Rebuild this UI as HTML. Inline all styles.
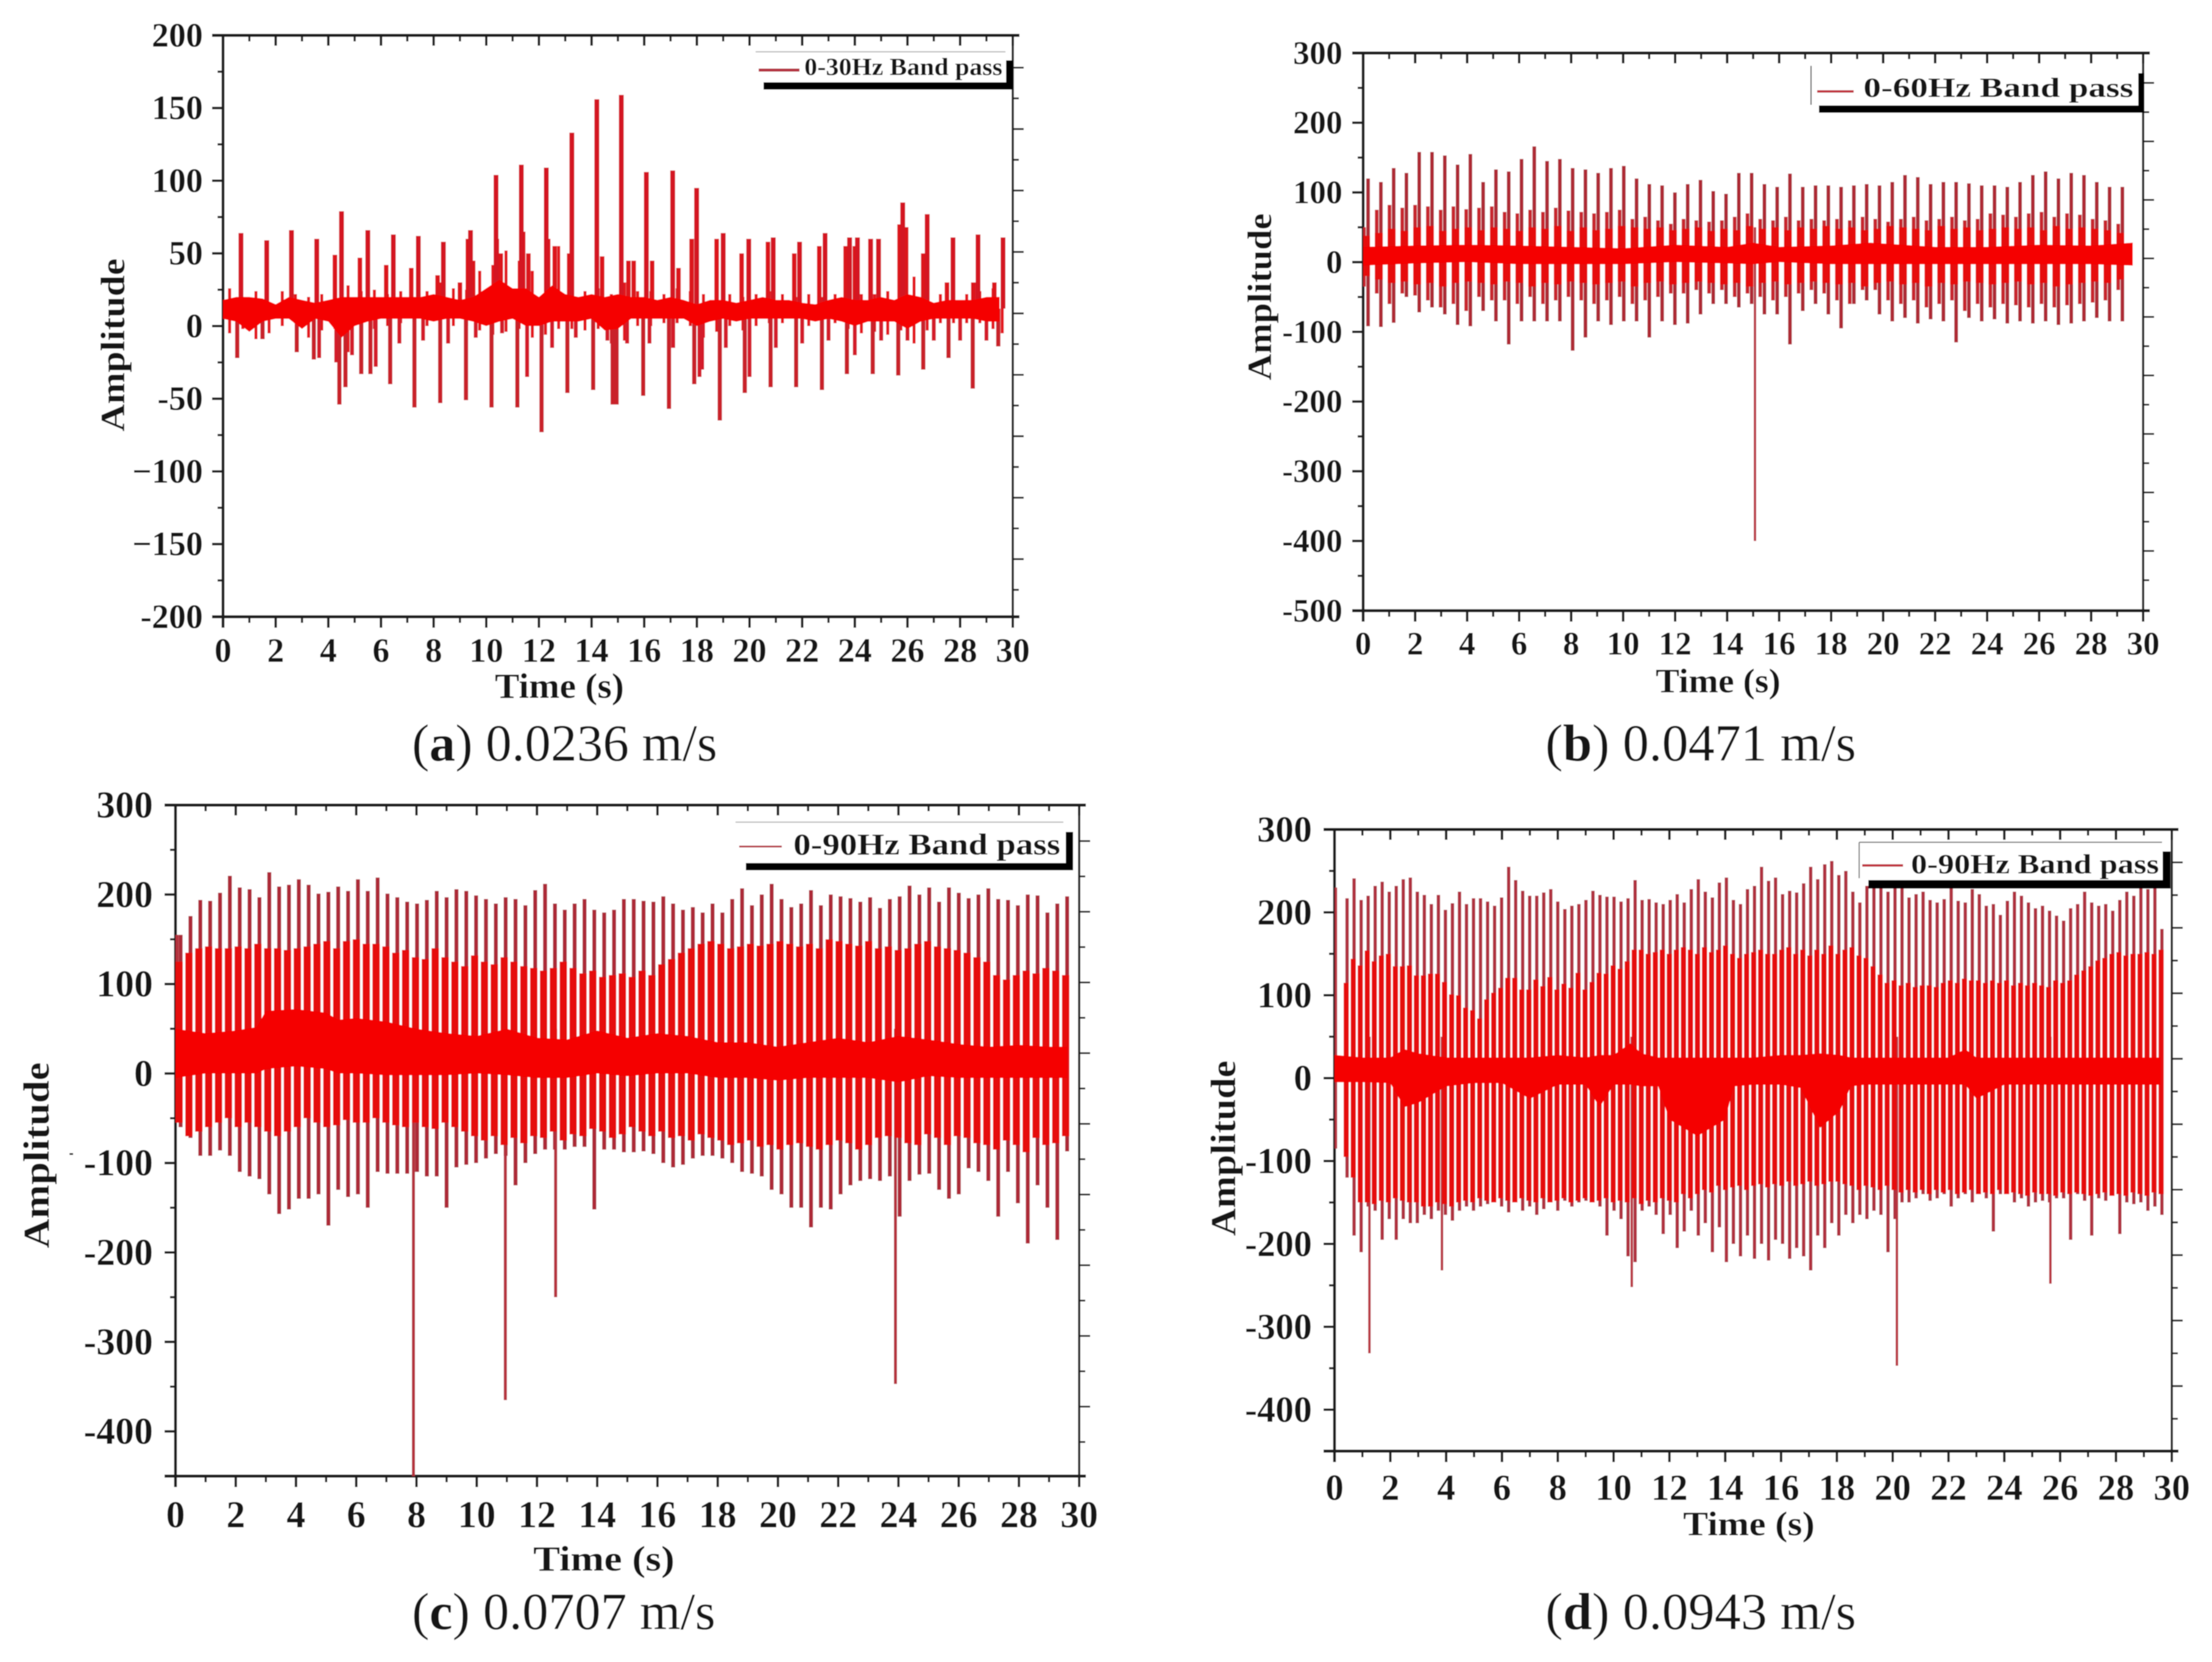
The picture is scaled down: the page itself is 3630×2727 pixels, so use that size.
<!DOCTYPE html>
<html lang="en">
<head>
<meta charset="utf-8">
<title>Band-pass amplitude charts</title>
<style>
html,body{margin:0;padding:0;background:#fff}
svg{display:block}
text{font-family:"Liberation Serif",serif;fill:#141414}
.b{font-weight:bold}
</style>
</head>
<body>
<svg id="fig" xmlns="http://www.w3.org/2000/svg" width="3630" height="2727" viewBox="0 0 3630 2727">
<defs>
<filter id="soft" x="0" y="0" width="100%" height="100%" filterUnits="userSpaceOnUse" primitiveUnits="userSpaceOnUse"><feGaussianBlur stdDeviation="0.9"/></filter>
<clipPath id="clip-a"><rect x="366" y="58" width="1296" height="954"/></clipPath>
<clipPath id="clip-b"><rect x="2237" y="87" width="1280" height="915"/></clipPath>
<clipPath id="clip-c"><rect x="288" y="1321" width="1483" height="1101"/></clipPath>
<clipPath id="clip-d"><rect x="2190" y="1361" width="1374" height="1020"/></clipPath>
</defs>
<g id="root" filter="url(#soft)">
<rect x="0" y="0" width="3630" height="2727" fill="#fff"/>
<g id="panel-a"></g>
<g id="panel-b"></g>
<g id="panel-c"></g>
<g id="panel-d"></g>

<!-- legends -->
<g>
<rect x="1240" y="85" width="420" height="55" fill="#fff"/>
<line x1="1240" y1="85" x2="1650" y2="85" stroke="#bbb" stroke-width="2"/>
<line x1="1245" y1="115" x2="1312" y2="115" stroke="#b5303f" stroke-width="5"/>
<text class="b" x="1320" y="123" font-size="40" textLength="325" lengthAdjust="spacingAndGlyphs">0-30Hz Band pass</text>
<rect x="1253" y="135" width="409" height="12" fill="#000"/>
<rect x="1651" y="99" width="11" height="48" fill="#000"/>
</g>
<g>
<rect x="2972" y="108" width="540" height="70" fill="#fff"/>
<line x1="2972" y1="108" x2="2972" y2="172" stroke="#555" stroke-width="2"/>
<line x1="2982" y1="150" x2="3042" y2="150" stroke="#c0303c" stroke-width="4"/>
<text class="b" x="3058" y="159" font-size="46" textLength="443" lengthAdjust="spacingAndGlyphs">0-60Hz Band pass</text>
<rect x="2985" y="173" width="534" height="12" fill="#000"/>
<rect x="3509" y="120" width="10" height="61" fill="#000"/>
</g>
<g>
<rect x="1207" y="1349" width="545" height="70" fill="#fff"/>
<line x1="1207" y1="1349" x2="1745" y2="1349" stroke="#bbb" stroke-width="2"/>
<line x1="1213" y1="1389" x2="1283" y2="1389" stroke="#b5303f" stroke-width="3"/>
<text class="b" x="1302" y="1402" font-size="50" textLength="438" lengthAdjust="spacingAndGlyphs">0-90Hz Band pass</text>
<rect x="1224" y="1416" width="537" height="12" fill="#000"/>
<rect x="1749" y="1365" width="12" height="63" fill="#000"/>
</g>
<g>
<rect x="3051" y="1382" width="500" height="62" fill="#fff"/>
<line x1="3051" y1="1382" x2="3548" y2="1382" stroke="#777" stroke-width="2"/>
<line x1="3051" y1="1382" x2="3051" y2="1441" stroke="#777" stroke-width="2"/>
<line x1="3056" y1="1420" x2="3123" y2="1420" stroke="#c0303c" stroke-width="4"/>
<text class="b" x="3136" y="1433" font-size="46" textLength="407" lengthAdjust="spacingAndGlyphs">0-90Hz Band pass</text>
<rect x="3066" y="1444" width="496" height="14" fill="#000"/>
<rect x="3549" y="1397" width="13" height="61" fill="#000"/>
</g>

<!-- axis titles -->
<text class="b" transform="translate(204,708) rotate(-90)" font-size="56" textLength="284" lengthAdjust="spacingAndGlyphs">Amplitude</text>
<text class="b" x="812" y="1145" font-size="58" textLength="212" lengthAdjust="spacingAndGlyphs">Time (s)</text>
<text class="b" transform="translate(2086,624) rotate(-90)" font-size="56" textLength="274" lengthAdjust="spacingAndGlyphs">Amplitude</text>
<text class="b" x="2717" y="1136" font-size="56" textLength="205" lengthAdjust="spacingAndGlyphs">Time (s)</text>
<text class="b" transform="translate(80,2048) rotate(-90)" font-size="60" textLength="305" lengthAdjust="spacingAndGlyphs">Amplitude</text>
<text class="b" x="875" y="2577" font-size="58" textLength="232" lengthAdjust="spacingAndGlyphs">Time (s)</text>
<text class="b" transform="translate(2027,2028) rotate(-90)" font-size="58" textLength="288" lengthAdjust="spacingAndGlyphs">Amplitude</text>
<text class="b" x="2762" y="2519" font-size="56" textLength="216" lengthAdjust="spacingAndGlyphs">Time (s)</text>
<rect x="114" y="1892" width="6" height="3" fill="#222"/>

<!-- captions -->
<text x="676" y="1248" font-size="86" textLength="501" lengthAdjust="spacingAndGlyphs">(<tspan class="b">a</tspan>) 0.0236 m/s</text>
<text x="2536" y="1248" font-size="86" textLength="510" lengthAdjust="spacingAndGlyphs">(<tspan class="b">b</tspan>) 0.0471 m/s</text>
<text x="676" y="2673" font-size="86" textLength="498" lengthAdjust="spacingAndGlyphs">(<tspan class="b">c</tspan>) 0.0707 m/s</text>
<text x="2536" y="2673" font-size="86" textLength="510" lengthAdjust="spacingAndGlyphs">(<tspan class="b">d</tspan>) 0.0943 m/s</text>
</g>
</svg>
<script>
/* shared x axis */
const xTickValues = [0,2,4,6,8,10,12,14,16,18,20,22,24,26,28,30];
const xTickLabels = ["0","2","4","6","8","10","12","14","16","18","20","22","24","26","28","30"];

/* ---------- panel a ---------- */
const aYTicks = [200,150,100,50,0,-50,-100,-150,-200];
const aYLabels = ["200","150","100","50","0","-50","\u2212100","\u2212150","-200"];
const aPeakTime = [.68,1.66,2.6,3.56,4.5,5.5,6.47,7.42,8.37,9.4,10.37,11.33,12.28,13.25,14.2,15.13,16.08,17.08,17.99,19,19.97,20.9,21.9,22.87,23.8,24.1,24.6,24.9,25.82,26.75,27.73,28.68,29.63];
const aPeakValue = [64,59,66,60,79,66,63,62,58,66,104,111,109,133,156,159,106,107,95,64,60,61,58,64,61,61,60,60,85,77,61,63,61];
const aTroughTime = [.54,1.5,2.8,3.45,4.42,4.65,5.25,5.6,6.35,7.27,8.25,9.23,10.2,11.18,12.1,13.08,14.06,14.8,14.95,15.96,16.94,17.9,18.87,19.82,20.8,21.77,22.75,23.7,24.68,25.65,26.6,27.56,28.48,29.45];
const aTroughValue = [-22,-9,-18,-23,-54,-42,-33,-33,-40,-56,-53,-51,-56,-56,-73,-46,-44,-54,-54,-48,-57,-40,-65,-46,-42,-42,-44,-33,-33,-34,-30,-22,-43,-14];
const aMinorPeakTime = [4.25,5.2,6.2,7.15,8.15,9.0,9.3,9.5,10.4,10.55,11.4,11.6,12.35,12.6,13.15,14.4,15.4,15.6,16.3,17.3,17.8,18.75,19.7,20.7,21.7,22.65,23.65,24.0,25.7,25.95,26.6,27.5,28.5,29.3];
const aMinorPeakValue = [49,47,42,40,35,30,60,45,60,50,65,50,60,55,50,48,45,45,45,40,60,60,50,58,50,55,55,55,70,68,50,30,30,30];
const aMinorTroughTime = [3.65,4.3,4.9,5.8,6.7,7.6,8.55,9.6,10.6,11.55,12.5,13.4,14.6,15.35,16.2,17.1,18.1,18.2,19.1,20,21,22,23,24,25,26,27,28,29];
const aMinorTroughValue = [-22,-25,-20,-28,-12,-10,-12,-8,-5,-35,-15,-8,-10,-12,-12,-15,-35,-30,-15,-35,-15,-12,-10,-20,-10,-10,-10,-10,-10];
const aCoreTime = [0,.5,1,1.5,2,2.5,3,3.5,4,4.5,5,5.5,6,6.5,7,7.5,8,8.5,9,9.5,10,10.5,11,11.5,12,12.5,13,13.5,14,14.5,15,15.5,16,16.5,17,17.5,18,18.5,19,19.5,20,20.5,21,21.5,22,22.5,23,23.5,24,24.5,25,25.5,26,26.5,27,27.5,28,28.5,29,29.5];
const aCoreHigh = [18,20,20,19,15,20,18,16,18,20,20,20,20,20,20,20,22,20,18,20,26,32,26,26,20,28,22,20,22,20,22,20,20,18,20,18,15,18,18,16,18,20,18,18,16,15,18,20,18,18,20,18,22,20,16,18,18,18,20,20];
const aCoreLow = [5,3,-4,3,5,5,-2,5,3,-8,0,3,5,5,5,5,3,5,5,3,0,3,5,0,0,3,3,3,5,-3,-2,5,5,5,5,5,0,3,5,3,5,5,5,5,5,3,5,3,0,3,3,3,-2,3,5,5,5,5,3,3];
const aRippleTime = [.25,.75,1.25,1.75,2.25,2.75,3.25,3.75,4.25,4.75,5.25,5.75,6.25,6.75,7.25,7.75,8.25,8.75,9.25,9.75,10.25,10.75,11.25,11.75,12.25,12.75,13.25,13.75,14.25,14.75,15.25,15.75,16.25,16.75,17.25,17.75,18.25,18.75,19.25,19.75,20.25,20.75,21.25,21.75,22.25,22.75,23.25,23.75,24.25,24.75,25.25,25.75,26.25,26.75,27.25,27.75,28.25,28.75,29.25,29.6];
const aRippleHigh = [26,20,24,16,24,22,20,22,22,28,24,25,22,24,20,24,30,26,25,38,42,52,45,38,28,55,30,24,26,22,30,24,24,22,26,24,22,20,22,20,22,24,22,20,22,20,22,24,22,22,24,22,34,28,22,24,22,24,26,24];
const aRippleLow = [-5,-2,-9,-5,0,2,-8,-3,-2,-18,-5,-2,0,2,3,0,-2,0,0,-3,-6,-4,-2,-8,-6,-2,-2,-3,-2,-12,-10,0,0,2,2,0,-8,-4,0,-3,0,2,2,2,0,-2,2,-2,-5,-4,-6,-3,-12,-3,2,2,2,2,-2,-5];

/* ---------- panel b ---------- */
const bYTicks = [300,200,100,0,-100,-200,-300,-400,-500];
const bYLabels = ["300","200","100","0","-100","-200","-300","-400","-500"];
const bCycleStart = 0.19, bCyclePeriod = 0.4917;
const bTop = [120,115,135,128,158,158,153,140,155,115,133,130,148,166,145,148,135,133,128,135,138,120,112,110,100,112,118,102,98,128,128,112,108,127,108,110,110,108,110,112,110,115,125,122,112,115,115,113,110,110,108,115,125,130,120,128,125,115,108,108];
const bBottom = [-92,-93,-87,-50,-72,-65,-75,-90,-92,-70,-85,-118,-85,-85,-85,-85,-127,-108,-85,-90,-85,-85,-108,-85,-90,-88,-75,-60,-60,-65,-60,-75,-75,-118,-70,-60,-75,-95,-60,-55,-75,-85,-80,-88,-82,-85,-115,-80,-85,-82,-88,-85,-88,-85,-90,-88,-85,-80,-85,-85];
const bMinorHigh = [50,75,82,78,82,80,75,80,76,78,80,72,70,75,72,78,74,72,70,72,75,62,65,60,55,62,60,58,60,65,70,62,60,65,60,62,60,62,60,65,62,58,62,65,60,62,65,60,62,70,68,65,70,72,65,70,68,62,60,55];
const bMinorLow = [-35,-45,-60,-45,-48,-55,-65,-60,-70,-50,-55,-55,-60,-50,-60,-55,-50,-55,-60,-55,-50,-60,-55,-50,-45,-45,-40,-45,-40,-50,-45,-50,-55,-50,-45,-40,-45,-55,-60,-40,-40,-55,-60,-55,-65,-60,-55,-70,-60,-65,-60,-62,-65,-60,-65,-62,-60,-58,-55,-40];
const bBurstHigh = [38,42,48,45,50,52,45,48,50,46,50,48,45,50,48,52,45,50,46,48,52,50,48,50,46,48,50,45,48,46,52,48,50,46,50,48,52,48,50,46,48,52,50,48,46,52,48,50,46,48,50,48,50,46,52,48,50,48,46,42];
const bBurstLow = [-20,-25,-30,-28,-32,-30,-35,-30,-28,-30,-32,-28,-30,-35,-30,-32,-28,-30,-32,-30,-28,-35,-30,-28,-32,-30,-28,-30,-32,-30,-35,-30,-28,-32,-30,-28,-30,-32,-30,-35,-30,-28,-32,-30,-35,-30,-32,-28,-30,-32,-30,-28,-32,-30,-35,-32,-30,-28,-30,-25];
const bCoreTime = [0,2,4,6,8,10,12,14,15,16,18,19.5,22,24,26,28,29.6];
const bCoreHigh = [22,24,25,24,22,20,25,22,28,22,24,28,22,22,25,24,28];
const bCoreLow = [-5,-2,0,-3,-3,-3,0,-2,-3,0,-3,-3,-3,-3,-3,-3,-5];
const bOutlierTime = [15.07];
const bOutlierHigh = [50];
const bOutlierLow = [-400];

/* ---------- panel c ---------- */
const cYTicks = [300,200,100,0,-100,-200,-300,-400];
const cYLabels = ["300","200","100","0","-100","-200","-300","-400"];
const cCycleStart = 0.17, cCyclePeriod = 0.327;
const cTop = [155,176,194,193,202,221,208,206,197,225,209,211,217,211,201,203,209,204,217,204,219,201,197,192,190,194,204,197,206,204,199,195,190,197,195,188,205,212,190,183,190,195,183,180,183,195,195,193,192,198,190,183,186,180,190,180,195,207,188,200,212,195,186,190,205,188,200,198,196,192,197,185,195,198,210,200,208,192,208,202,196,200,207,195,194,188,200,199,180,190,198];
const cBottom = [-60,-72,-92,-92,-86,-92,-110,-115,-118,-135,-157,-152,-140,-140,-135,-170,-130,-138,-135,-150,-110,-112,-112,-112,-110,-115,-115,-150,-105,-102,-100,-95,-90,-92,-125,-100,-90,-85,-85,-85,-82,-82,-152,-85,-85,-88,-88,-87,-90,-100,-105,-102,-95,-92,-92,-95,-100,-110,-112,-115,-130,-135,-150,-150,-172,-150,-152,-135,-125,-120,-118,-120,-115,-160,-120,-113,-112,-130,-140,-135,-106,-110,-120,-160,-110,-145,-190,-125,-150,-186,-87];
const cThickHigh = [125,135,140,142,140,140,142,140,145,140,140,138,140,142,145,148,140,148,150,145,145,142,135,138,130,128,140,130,125,120,132,125,122,130,125,120,118,115,118,125,118,112,115,108,110,112,108,115,110,122,128,135,140,145,148,145,140,142,145,143,145,148,145,142,145,140,150,148,145,143,148,140,142,138,140,145,148,142,140,138,135,130,125,110,105,110,115,112,118,115,110];
const cThickLow = [-55,-70,-65,-60,-55,-50,-60,-55,-60,-65,-70,-65,-60,-50,-55,-60,-58,-52,-55,-55,-50,-55,-58,-60,-55,-60,-62,-55,-60,-65,-70,-75,-70,-80,-72,-78,-70,-72,-65,-75,-68,-70,-62,-65,-72,-68,-60,-65,-70,-65,-72,-70,-75,-68,-72,-75,-80,-78,-75,-82,-80,-85,-80,-78,-82,-85,-80,-75,-78,-85,-80,-72,-70,-72,-78,-80,-68,-72,-80,-70,-72,-78,-80,-85,-75,-80,-88,-72,-80,-78,-70];
const cCoreTime = [0,1,2,2.7,3,4,5,5.4,6,7,8,9,10,11,12,13,14,15,16,17,18,19,20,21,22,23,24,25,26,27,28,29,29.6];
const cCoreHigh = [50,45,48,52,70,72,68,60,62,58,50,45,42,50,40,38,48,40,45,42,35,35,30,35,40,35,42,38,33,30,32,30,30];
const cCoreLow = [-5,0,0,0,5,8,5,0,0,-2,-2,-2,0,-2,-5,-5,0,-3,0,0,-5,-5,-8,-5,-5,-5,-10,-3,-5,-5,-5,-5,-5];
const cOutlierTime = [.05,7.9,10.95,12.62,23.9];
const cOutlierHigh = [155,50,50,50,50];
const cOutlierLow = [-40,-450,-365,-250,-347];

/* ---------- panel d ---------- */
const dYTicks = [300,200,100,0,-100,-200,-300,-400];
const dYLabels = ["300","200","100","0","-100","-200","-300","-400"];
const dCycleStart = 0.45, dCyclePeriod = 0.2517;
const dTop = [217,241,215,220,232,237,225,232,240,242,225,221,210,221,203,211,225,210,217,217,213,208,218,255,239,226,220,220,224,228,213,204,208,210,215,226,221,219,219,213,217,239,215,216,212,210,215,222,212,228,240,225,218,236,242,215,210,228,232,255,238,242,222,226,224,235,255,240,258,262,245,250,225,212,232,262,240,225,238,242,218,222,225,215,212,216,230,214,212,228,222,208,210,197,214,225,220,212,205,208,202,196,190,205,210,225,212,208,210,202,215,225,220,240,228,235,180];
const dBottom = [-120,-190,-210,-155,-160,-195,-170,-195,-170,-175,-175,-165,-170,-160,-165,-172,-160,-155,-160,-155,-152,-150,-155,-162,-150,-160,-155,-165,-158,-150,-160,-148,-155,-150,-148,-150,-155,-190,-160,-170,-215,-222,-160,-155,-165,-188,-165,-205,-185,-160,-190,-175,-210,-180,-222,-200,-215,-190,-218,-200,-220,-195,-200,-218,-205,-215,-232,-190,-205,-175,-190,-165,-175,-165,-170,-160,-165,-210,-170,-150,-150,-145,-140,-148,-145,-140,-155,-145,-140,-150,-140,-145,-185,-140,-138,-150,-145,-155,-150,-148,-150,-145,-145,-195,-140,-148,-190,-145,-148,-140,-188,-150,-152,-150,-160,-155,-165];
const dThickHigh = [115,144,136,154,141,148,150,135,135,136,124,124,126,126,116,101,100,85,82,72,95,103,109,121,121,107,107,119,111,122,107,114,109,127,107,116,127,126,136,132,141,155,155,150,152,155,150,155,158,155,150,158,152,155,160,150,145,150,152,155,150,150,155,158,150,155,148,155,150,160,150,155,158,148,145,135,125,115,118,112,115,110,112,112,110,115,118,115,120,118,118,115,118,115,118,112,115,112,115,112,110,118,115,118,125,130,135,142,145,150,152,148,150,150,152,150,155];
const dThickLow = [-95,-120,-150,-150,-152,-148,-150,-145,-148,-150,-150,-155,-155,-150,-152,-155,-150,-148,-150,-145,-148,-150,-145,-148,-150,-145,-148,-150,-145,-150,-148,-145,-150,-148,-145,-150,-148,-145,-150,-148,-150,-145,-152,-148,-150,-145,-148,-150,-140,-145,-140,-135,-138,-130,-135,-132,-130,-135,-130,-128,-132,-128,-130,-125,-130,-128,-125,-130,-128,-125,-125,-128,-130,-135,-130,-132,-135,-130,-135,-138,-135,-138,-135,-140,-135,-138,-135,-140,-138,-135,-140,-138,-140,-135,-140,-138,-140,-142,-138,-140,-140,-142,-138,-140,-138,-140,-142,-140,-138,-142,-140,-142,-138,-140,-142,-138,-140];
const dCoreTime = [0,1,2,2.5,3,4,5,6,7,8,9,9.5,10,10.6,11,11.6,12,12.5,13,13.5,14,14.3,15,16,16.7,17.4,18.1,18.5,19,20,21,22,22.6,23,24,25,26,27,28,29,29.6];
const dCoreHigh = [28,25,25,35,30,25,25,25,25,28,25,28,28,42,30,25,25,25,25,25,25,25,25,28,28,30,28,25,25,25,25,25,35,25,25,25,25,25,25,25,25];
const dCoreLow = [-5,-5,-6,-35,-30,-10,-6,-6,-25,-8,-8,-35,-8,-8,-10,-10,-50,-60,-70,-60,-50,-10,-8,-8,-12,-60,-40,-10,-8,-8,-8,-8,-8,-25,-8,-8,-8,-8,-8,-8,-8];
const dOutlierTime = [.05,1.25,3.85,10.65,20.15,25.65];
const dOutlierHigh = [230,50,50,50,50,50];
const dOutlierLow = [-85,-332,-232,-252,-347,-248];

/* ---------- drawing ---------- */
const NS = 'http://www.w3.org/2000/svg';
const INK = '#1a1a1a';

function makeAxes(id, left, right, top, bottom, xMax, yMax, yMin) {
  return {
    id: id, left: left, right: right, top: top, bottom: bottom,
    x: function (t) { return left + (t / xMax) * (right - left); },
    y: function (v) { return top + ((yMax - v) / (yMax - yMin)) * (bottom - top); }
  };
}
function seg(parent, x1, y1, x2, y2, w) {
  const l = document.createElementNS(NS, 'line');
  l.setAttribute('x1', x1); l.setAttribute('y1', y1);
  l.setAttribute('x2', x2); l.setAttribute('y2', y2);
  l.setAttribute('stroke', INK); l.setAttribute('stroke-width', w);
  parent.appendChild(l);
  return l;
}
function drawFrame(ax, yTicks, yLabels, yMinorStep, fontSize, yLabelRight, xLabelBaseline, rightFirst, rightStep) {
  const host = document.getElementById('panel-' + ax.id);
  const g = document.createElementNS(NS, 'g');
  
  
  host.appendChild(g);

  const topLine = seg(g, ax.left - 18, ax.top, ax.right + 11, ax.top, 5);
  
  
  const bottomLine = seg(g, ax.left - 18, ax.bottom, ax.right + 11, ax.bottom, 5);
  
  
  const leftLine = seg(g, ax.left, ax.top - 2, ax.left, ax.bottom + 18, 4.5);
  
  
  const rightLine = seg(g, ax.right, ax.top - 2, ax.right, ax.bottom + 2, 3.5);
  
  

  xTickValues.forEach(function (v, i) {
    const px = ax.x(v);
    const major = seg(g, px, ax.bottom, px, ax.bottom + 18, 4);
    
    
    const topMajor = seg(g, px, ax.top, px, ax.top + 17, 4);
    
    
    if (v < 30) {
      const mx = ax.x(v + 1);
      const minor = seg(g, mx, ax.bottom, mx, ax.bottom + 10, 3.5);
      
      
      const topMinor = seg(g, mx, ax.top, mx, ax.top + 10, 3.5);
      
      
    }
    const label = document.createElementNS(NS, 'text');
    label.setAttribute('x', px);
    label.setAttribute('y', xLabelBaseline);
    label.setAttribute('text-anchor', 'middle');
    label.setAttribute('font-size', fontSize);
    label.setAttribute('class', 'b');
    
    
    label.textContent = xTickLabels[i];
    g.appendChild(label);
  });

  yTicks.forEach(function (v, i) {
    const py = ax.y(v);
    const major = seg(g, ax.left - 18, py, ax.left, py, 4);
    
    
    const label = document.createElementNS(NS, 'text');
    label.setAttribute('x', yLabelRight);
    label.setAttribute('y', py + fontSize * 0.33);
    label.setAttribute('text-anchor', 'end');
    label.setAttribute('font-size', fontSize);
    label.setAttribute('class', 'b');
    
    
    label.textContent = yLabels[i];
    g.appendChild(label);
    const my = ax.y(v - yMinorStep);
    if (my < ax.bottom - 2) {
      const minor = seg(g, ax.left - 9, my, ax.left, my, 3.5);
      
      
    }
  });

  for (let k = 0; k < 18; k++) {
    const py = rightFirst + k * rightStep;
    const r = seg(g, ax.right, py, ax.right + (k % 2 === 0 ? 18 : 10), py, 3);
    
    
  }
}
function spikePath(ax, times, highs, lows) {
  let d = '';
  for (let i = 0; i < times.length; i++) {
    const x = ax.x(times[i]).toFixed(1);
    d += 'M' + x + ' ' + ax.y(highs[i]).toFixed(1) + 'L' + x + ' ' + ax.y(lows[i]).toFixed(1);
  }
  return d;
}
function addLayer(ax, d, width, color, name) {
  const p = document.createElementNS(NS, 'path');
  p.setAttribute('d', d);
  p.setAttribute('fill', 'none');
  p.setAttribute('stroke', color);
  p.setAttribute('stroke-width', width);
  p.setAttribute('clip-path', 'url(#clip-' + ax.id + ')');
  
  
  document.getElementById('panel-' + ax.id).appendChild(p);
}
function addCore(ax, times, highs, lows, name) {
  let pts = [];
  times.forEach(function (t, i) { pts.push(ax.x(t).toFixed(1) + ',' + ax.y(highs[i]).toFixed(1)); });
  for (let i = times.length - 1; i >= 0; i--) { pts.push(ax.x(times[i]).toFixed(1) + ',' + ax.y(lows[i]).toFixed(1)); }
  const p = document.createElementNS(NS, 'polygon');
  p.setAttribute('points', pts.join(' '));
  p.setAttribute('fill', '#f50000');
  p.setAttribute('clip-path', 'url(#clip-' + ax.id + ')');
  
  
  document.getElementById('panel-' + ax.id).appendChild(p);
}
function cycleTimes(count, start, period, offset) {
  const out = [];
  for (let i = 0; i < count; i++) { out.push(start + i * period + offset); }
  return out;
}
function constant(count, v) {
  const out = [];
  for (let i = 0; i < count; i++) { out.push(v); }
  return out;
}

/* panel a */
const axA = makeAxes('a', 366, 1662, 58, 1012, 30, 200, -200);
drawFrame(axA, aYTicks, aYLabels, 25, 56, 333, 1086, 111, 50.4);
addLayer(axA, spikePath(axA, aRippleTime, aRippleHigh, aRippleLow), 5, '#e3161e', 'series-a-ripple');
addLayer(axA, spikePath(axA, aMinorTroughTime, constant(aMinorTroughTime.length, 12), aMinorTroughValue), 6.5, '#d41f29', 'series-a-minor-troughs');
addLayer(axA, spikePath(axA, aTroughTime, constant(aTroughTime.length, 12), aTroughValue), 7, '#c92029', 'series-a-troughs');
addLayer(axA, spikePath(axA, aMinorPeakTime, aMinorPeakValue, constant(aMinorPeakTime.length, 12)), 7.5, '#dc161e', 'series-a-minor-peaks');
addLayer(axA, spikePath(axA, aPeakTime, aPeakValue, constant(aPeakTime.length, 12)), 8, '#d41820', 'series-a-peaks');
addCore(axA, aCoreTime, aCoreHigh, aCoreLow, 'series-a-noise-band');

/* panel b */
const axB = makeAxes('b', 2237, 3517, 87, 1002, 30, 300, -500);
drawFrame(axB, bYTicks, bYLabels, 50, 54, 2203, 1074, 136, 48);
addLayer(axB, spikePath(axB, cycleTimes(bTop.length, bCycleStart, bCyclePeriod, 0), bTop, bBottom), 6, '#ae2a34', 'series-b-spikes');
addLayer(axB, spikePath(axB, bOutlierTime, bOutlierHigh, bOutlierLow), 4, '#bb3a44', 'series-b-outliers');
addLayer(axB, spikePath(axB, cycleTimes(bTop.length, bCycleStart, bCyclePeriod, -0.16), bMinorHigh, bMinorLow), 6, '#c8262f', 'series-b-minor-spikes');
addLayer(axB, spikePath(axB, cycleTimes(bTop.length, bCycleStart, bCyclePeriod, -0.08), bBurstHigh, bBurstLow), 13, '#e60a10', 'series-b-bursts');
addCore(axB, bCoreTime, bCoreHigh, bCoreLow, 'series-b-noise-band');

/* panel c */
const axC = makeAxes('c', 288, 1771, 1321, 2422, 30, 300, -450);
drawFrame(axC, cYTicks, cYLabels, 50, 62, 251, 2506, 1380, 58);
addLayer(axC, spikePath(axC, cycleTimes(cTop.length, cCycleStart, cCyclePeriod, 0), cTop, cBottom), 6.5, '#ad2b37', 'series-c-spikes');
addLayer(axC, spikePath(axC, cOutlierTime, cOutlierHigh, cOutlierLow), 5, '#b5303c', 'series-c-outliers');
addLayer(axC, spikePath(axC, cycleTimes(cTop.length, cCycleStart, cCyclePeriod, -0.05), cThickHigh, cThickLow), 12, '#e60a10', 'series-c-thick-bursts');
addCore(axC, cCoreTime, cCoreHigh, cCoreLow, 'series-c-noise-band');

/* panel d */
const axD = makeAxes('d', 2190, 3564, 1361, 2381, 30, 300, -450);
drawFrame(axD, dYTicks, dYLabels, 50, 60, 2153, 2461, 1415, 53.7);
addLayer(axD, spikePath(axD, cycleTimes(dTop.length, dCycleStart, dCyclePeriod, 0), dTop, dBottom), 5.5, '#b03340', 'series-d-spikes');
addLayer(axD, spikePath(axD, dOutlierTime, dOutlierHigh, dOutlierLow), 4, '#b83640', 'series-d-outliers');
addLayer(axD, spikePath(axD, cycleTimes(dTop.length, dCycleStart, dCyclePeriod, -0.03), dThickHigh, dThickLow), 8.5, '#e60a10', 'series-d-thick-bursts');
addCore(axD, dCoreTime, dCoreHigh, dCoreLow, 'series-d-noise-band');
</script>
</body>
</html>
